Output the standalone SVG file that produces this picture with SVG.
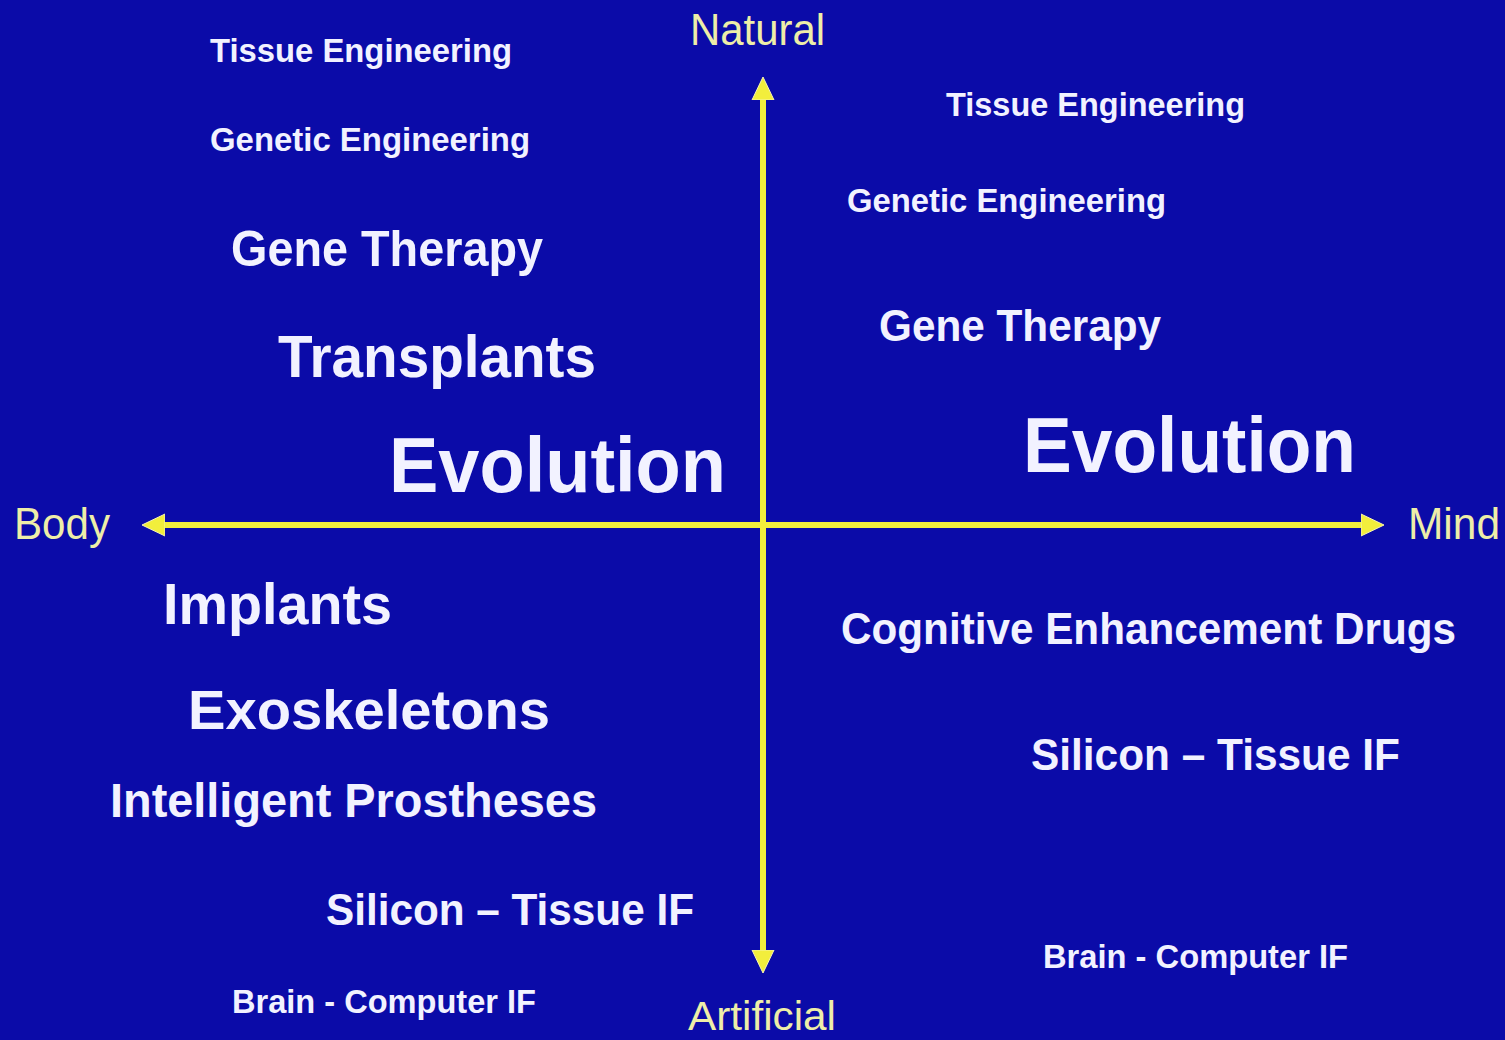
<svg xmlns="http://www.w3.org/2000/svg" width="1505" height="1040" viewBox="0 0 1505 1040">
<defs>
<marker id="arr" markerUnits="userSpaceOnUse" markerWidth="24" markerHeight="24" refX="0" refY="11" orient="auto-start-reverse" viewBox="0 0 24 22">
<path d="M0,0 L23,11 L0,22 z" fill="#f2ee3c" stroke="#f6f4b0" stroke-width="1"/>
</marker>
<style>
.t{font-family:"Liberation Sans",Arial,sans-serif;font-weight:bold;fill:#f2f2ff;}
.a{font-family:"Liberation Sans",Arial,sans-serif;fill:#eeeea8;}
.ax{stroke:#f2ee3c;stroke-width:6;fill:none;}
</style>
</defs>
<rect width="1505" height="1040" fill="#0b0ba8"/>
<g id="connectors">
<line class="ax" x1="763" y1="100" x2="763" y2="950" marker-start="url(#arr)" marker-end="url(#arr)"/>
<line class="ax" x1="165" y1="525" x2="1361" y2="525" marker-start="url(#arr)" marker-end="url(#arr)"/>
</g>
<g id="axis-natural"><text class="a" x="690" y="45" font-size="44" textLength="135" lengthAdjust="spacingAndGlyphs">Natural</text></g>
<g id="axis-artificial"><text class="a" x="688" y="1030" font-size="40" textLength="148" lengthAdjust="spacingAndGlyphs">Artificial</text></g>
<g id="axis-body"><text class="a" x="14" y="539" font-size="44" textLength="96" lengthAdjust="spacingAndGlyphs">Body</text></g>
<g id="axis-mind"><text class="a" x="1408" y="539" font-size="44" textLength="92" lengthAdjust="spacingAndGlyphs">Mind</text></g>

<g id="l-tissue"><text class="t" x="210" y="62" font-size="34" textLength="302" lengthAdjust="spacingAndGlyphs">Tissue Engineering</text></g>
<g id="l-genetic"><text class="t" x="210" y="151" font-size="34" textLength="320" lengthAdjust="spacingAndGlyphs">Genetic Engineering</text></g>
<g id="l-gene"><text class="t" x="231" y="266" font-size="50" textLength="312" lengthAdjust="spacingAndGlyphs">Gene Therapy</text></g>
<g id="l-transplants"><text class="t" x="278" y="377" font-size="60" textLength="318" lengthAdjust="spacingAndGlyphs">Transplants</text></g>
<g id="l-evolution"><text class="t" x="389" y="492" font-size="77" textLength="337" lengthAdjust="spacingAndGlyphs">Evolution</text></g>
<g id="l-implants"><text class="t" x="163" y="624" font-size="58" textLength="229" lengthAdjust="spacingAndGlyphs">Implants</text></g>
<g id="l-exo"><text class="t" x="188" y="729" font-size="56" textLength="362" lengthAdjust="spacingAndGlyphs">Exoskeletons</text></g>
<g id="l-prost"><text class="t" x="110" y="817" font-size="48" textLength="487" lengthAdjust="spacingAndGlyphs">Intelligent Prostheses</text></g>
<g id="l-silicon"><text class="t" x="326" y="925" font-size="44" textLength="368" lengthAdjust="spacingAndGlyphs">Silicon – Tissue IF</text></g>
<g id="l-brain"><text class="t" x="232" y="1013" font-size="34" textLength="304" lengthAdjust="spacingAndGlyphs">Brain - Computer IF</text></g>

<g id="r-tissue"><text class="t" x="946" y="116" font-size="34" textLength="299" lengthAdjust="spacingAndGlyphs">Tissue Engineering</text></g>
<g id="r-genetic"><text class="t" x="847" y="212" font-size="34" textLength="319" lengthAdjust="spacingAndGlyphs">Genetic Engineering</text></g>
<g id="r-gene"><text class="t" x="879" y="341" font-size="44" textLength="282" lengthAdjust="spacingAndGlyphs">Gene Therapy</text></g>
<g id="r-evolution"><text class="t" x="1023" y="472" font-size="77" textLength="333" lengthAdjust="spacingAndGlyphs">Evolution</text></g>
<g id="r-cognitive"><text class="t" x="841" y="644" font-size="44" textLength="615" lengthAdjust="spacingAndGlyphs">Cognitive Enhancement Drugs</text></g>
<g id="r-silicon"><text class="t" x="1031" y="770" font-size="44" textLength="369" lengthAdjust="spacingAndGlyphs">Silicon – Tissue IF</text></g>
<g id="r-brain"><text class="t" x="1043" y="968" font-size="34" textLength="305" lengthAdjust="spacingAndGlyphs">Brain - Computer IF</text></g>
</svg>
